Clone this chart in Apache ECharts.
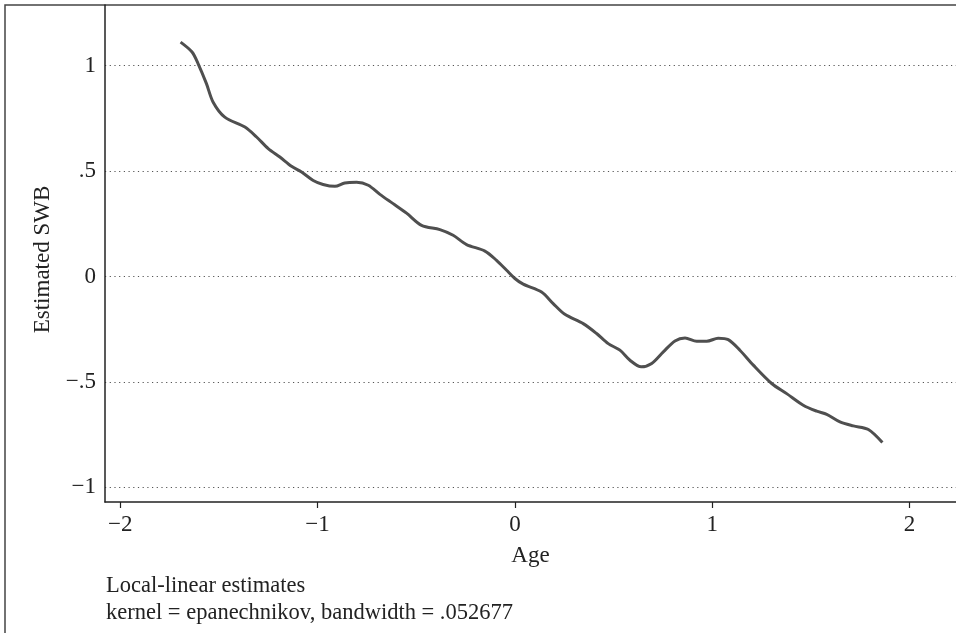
<!DOCTYPE html>
<html>
<head>
<meta charset="utf-8">
<script src="https://cdn.jsdelivr.net/npm/echarts@6/dist/echarts.min.js"></script>
<style>
  html, body { margin: 0; padding: 0; background: #fff; }
  #chart { width: 956px; height: 633px; }
</style>
</head>
<body>
<div id="chart"></div>
<script>
var age = [-1.694, -1.636, -1.605, -1.563, -1.529, -1.470, -1.368, -1.309, -1.250, -1.191,
    -1.132, -1.081, -1.022, -0.972, -0.912, -0.862, -0.802, -0.743, -0.684, -0.617,
    -0.549, -0.473, -0.380, -0.313, -0.245, -0.152, -0.093, -0.042, 0.000, 0.042,
    0.135, 0.194, 0.253, 0.346, 0.414, 0.473, 0.532, 0.583, 0.640, 0.693,
    0.752, 0.811, 0.862, 0.921, 0.972, 1.030, 1.081, 1.140, 1.208, 1.301,
    1.377, 1.461, 1.529, 1.580, 1.647, 1.715, 1.791, 1.862];
var swb = [1.112, 1.065, 1.009, 0.915, 0.827, 0.756, 0.709, 0.662, 0.607, 0.567,
    0.523, 0.496, 0.456, 0.437, 0.428, 0.444, 0.447, 0.433, 0.390, 0.346,
    0.301, 0.243, 0.223, 0.196, 0.152, 0.121, 0.077, 0.030, -0.009, -0.036,
    -0.073, -0.128, -0.179, -0.223, -0.270, -0.318, -0.349, -0.397, -0.428, -0.412,
    -0.357, -0.305, -0.291, -0.307, -0.307, -0.292, -0.299, -0.349, -0.420, -0.507,
    -0.555, -0.610, -0.638, -0.653, -0.689, -0.708, -0.725, -0.787];

var xTicks = [-2, -1, 0, 1, 2];
var yTicks = [-1, -0.5, 0, 0.5, 1];
var note = ['Local-linear estimates', 'kernel = epanechnikov, bandwidth = .052677'];

function fmt(v) {
    var s = String(Math.abs(v)).replace(/^0\./, '.');
    return (v < 0 ? '\u2212' : '') + s;
}

var font = '"Liberation Serif", "DejaVu Serif", serif';
var chart = echarts.init(document.getElementById('chart'));

var points = age.map(function (a, i) { return [a, swb[i]]; });

var option = {
    backgroundColor: '#fff',
    animation: false,
    textStyle: { fontFamily: font, color: '#222' },
    grid: { left: 105, right: 0, top: 5, bottom: 131 },
    xAxis: {
        type: 'value',
        min: -2.077,
        max: 2.235,
        name: 'Age',
        nameLocation: 'middle',
        nameGap: 42,
        nameTextStyle: { fontFamily: font, fontSize: 23, color: '#222' },
        axisLine: { show: true, onZero: false, lineStyle: { color: '#222', width: 1.5 } },
        axisTick: { show: true, length: 6, customValues: xTicks, lineStyle: { color: '#222', width: 1.2 } },
        axisLabel: {
            customValues: xTicks, margin: 11, fontFamily: font, fontSize: 23, color: '#222',
            formatter: fmt
        },
        splitLine: { show: false }
    },
    yAxis: {
        type: 'value',
        min: -1.069,
        max: 1.288,
        name: 'Estimated SWB',
        nameLocation: 'middle',
        nameGap: 48,
        nameRotate: 90,
        nameTextStyle: { fontFamily: font, fontSize: 23, color: '#222', padding: [0, 12, 0, 0] },
        axisLine: { show: true, onZero: false, lineStyle: { color: '#222', width: 1.5 } },
        axisTick: { show: false, customValues: yTicks },
        axisLabel: {
            customValues: yTicks, margin: 9, fontFamily: font, fontSize: 23, color: '#222',
            formatter: fmt
        },
        splitLine: {
            show: true,
            lineStyle: { color: '#555', width: 1.2, type: [1.2, 3.5] }
        }
    },
    graphic: [
        {
            type: 'rect',
            shape: { x: 5, y: 5, width: 980, height: 660 },
            style: { fill: null, stroke: '#444', lineWidth: 1.5 },
            silent: true
        },
        {
            type: 'text',
            left: 106,
            top: 573,
            style: {
                text: note.join('\n'),
                font: '22.5px ' + font,
                lineHeight: 27,
                fill: '#222'
            }
        }
    ],
    series: [{
        type: 'line',
        data: points,
        showSymbol: false,
        smooth: 0.3,
        lineStyle: { color: '#4f4f4f', width: 3 }
    }]
};

chart.setOption(option);
</script>
</body>
</html>
